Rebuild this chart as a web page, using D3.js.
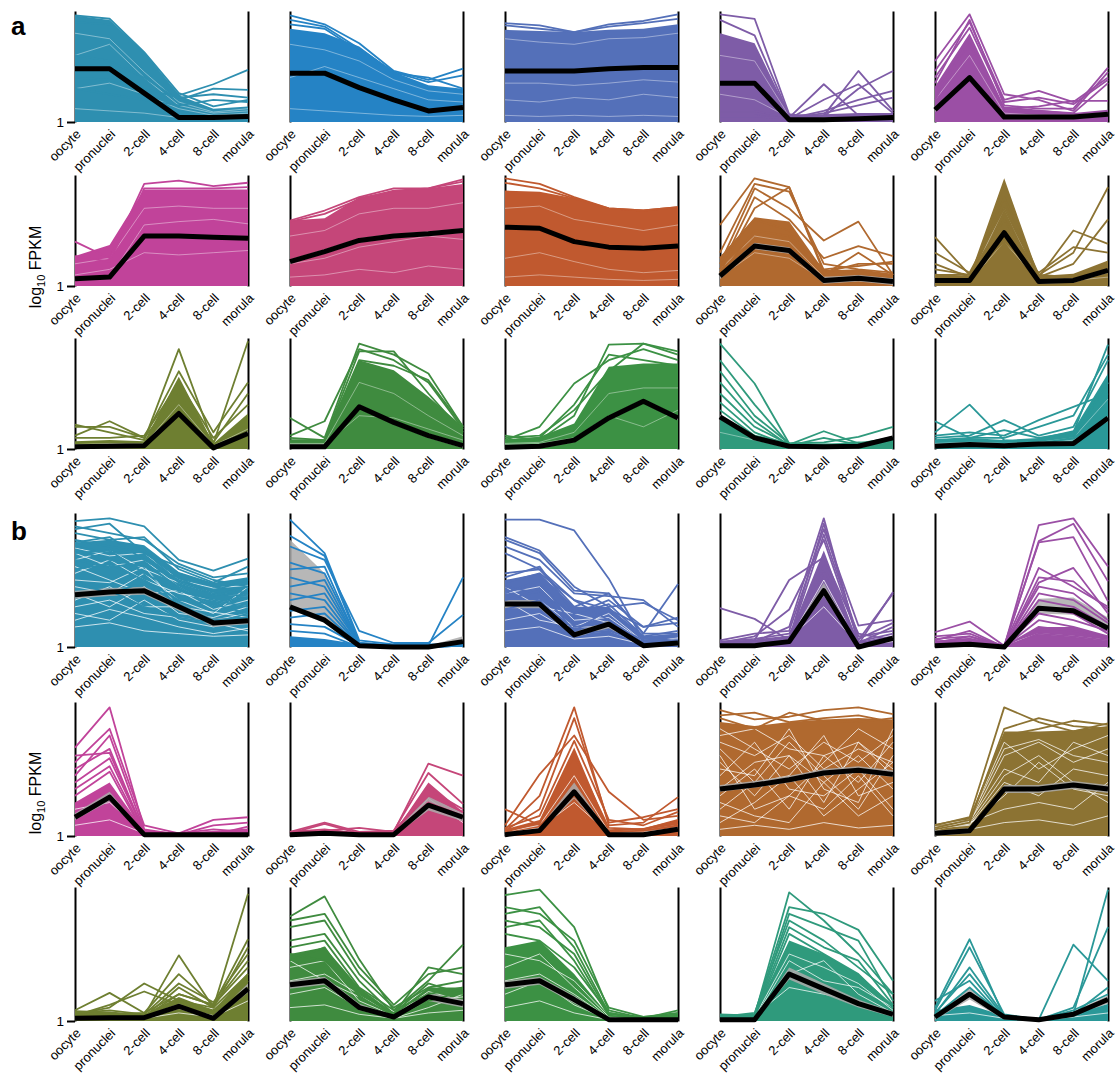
<!DOCTYPE html>
<html>
<head>
<meta charset="utf-8">
<script src="https://cdn.jsdelivr.net/npm/d3@7/dist/d3.min.js"></script>
<style>
  body { margin: 0; background: #fff; }
  svg { display: block; font-family: "Liberation Sans", Arial, Helvetica, sans-serif; }
</style>
</head>
<body>
<svg id="chart" width="1118" height="1077"></svg>
<script>
// stages on the x axis
var stages = ["oocyte", "pronuclei", "2-cell", "4-cell", "8-cell", "morula"];

// one colour per cluster position (same order in a and b)
var colors = ["#2e8fb0", "#2583c5", "#5470b9", "#7e5ca7", "#9b4fa5",
              "#c1439a", "#c54679", "#c0592f", "#b0692f", "#8c7333",
              "#6e7f31", "#3f8b3f", "#3c9144", "#2f9a7c", "#2a9898"];

// values are % of panel height above the "1" baseline (log10 FPKM)
// ---- section a ----
var meanA = [
  [48, 48, 26, 4, 4, 5], [44, 44, 31, 20, 10, 13], [46, 46, 46, 48, 49, 49],
  [35, 35, 2, 2, 3, 4], [11, 40, 4.5, 4.5, 4.5, 7],
  [6.5, 8, 45, 45, 44, 43], [22, 31, 41, 45, 47, 50], [53, 52, 40, 35, 34, 36],
  [9, 36, 32, 5, 7, 4], [5, 5, 48, 4, 5, 14],
  [2, 2.5, 3, 32, 1, 14], [2, 2, 38, 24, 12, 3], [1.5, 2.5, 8, 28, 43, 28],
  [29, 10, 2.5, 2, 2.5, 10], [2.5, 4, 3, 4.5, 5, 28]
];
var ciA = [1.5, 1.5, 1.5, 1.5, 2, 1.5, 2, 1.5, 3, 2, 2, 2, 2, 2, 1.5];
// upper edge of the solid mass of lines (lower edge is the baseline)
var bandA = [
  [96, 92, 63, 24, 12, 14], [84, 80, 68, 45, 33, 30], [83, 82, 81, 83, 84, 88],
  [80, 71, 7, 7, 8, 8], [32, 80, 14, 11, 8, 11],
  [27, 37, 87, 87, 87, 87], [59, 61, 80, 86, 88, 92], [86, 85, 79, 70, 68, 71],
  [26, 62, 58, 14, 15, 11], [11, 9, 97, 9, 11, 23],
  [7, 8, 7, 65, 5, 32], [8, 8, 80, 71, 47, 20], [8, 11, 23, 74, 77, 77],
  [30, 12, 5, 5, 5, 11], [8, 10, 8, 10, 17, 68]
];
// white gaps seen inside the solid mass
var gapsA = [
  [[80, 75, 45, 18, 9, 12], [60, 70, 40, 15, 8, 10], [30, 35, 25, 12, 6, 8], [12, 10, 8, 4, 3, 4]],
  [[70, 65, 55, 38, 28, 25], [40, 50, 40, 30, 20, 18], [12, 10, 8, 6, 5, 6]],
  [[75, 72, 70, 75, 76, 80], [35, 35, 33, 35, 38, 36], [20, 18, 22, 20, 25, 22], [6, 5, 6, 5, 6, 5]],
  [[60, 55, 5, 4, 4, 4], [25, 20, 4, 3, 3, 3]],
  [[20, 60, 8, 6, 5, 7]],
  [[20, 25, 70, 72, 70, 70], [10, 15, 30, 28, 30, 32], [5, 8, 55, 58, 60, 56]],
  [[45, 50, 65, 70, 70, 75], [20, 25, 35, 40, 45, 42], [8, 10, 15, 12, 18, 15]],
  [[70, 72, 60, 55, 50, 55], [25, 30, 22, 15, 12, 14], [8, 10, 8, 6, 5, 6]],
  [[15, 45, 40, 8, 8, 6], [8, 30, 25, 5, 5, 4]],
  [[6, 5, 70, 5, 6, 12], [4, 4, 40, 4, 5, 8]],
  [[4, 5, 4, 40, 3, 18]],
  [[5, 5, 60, 50, 30, 12], [4, 4, 30, 28, 18, 8]],
  [[5, 6, 15, 50, 55, 55], [4, 5, 10, 30, 20, 35]],
  [[15, 8, 3, 3, 3, 6]],
  [[5, 6, 5, 6, 10, 45], [4, 4, 4, 5, 8, 25]]
];
// lines that stick out of the mass
var linesA = [
  [[96, 93, 63, 26, 14, 20], [90, 88, 60, 24, 34, 47], [60, 55, 40, 20, 30, 29], [40, 38, 30, 22, 25, 22], [30, 25, 20, 15, 20, 18]],
  [[96, 88, 71, 46, 38, 48], [92, 86, 66, 45, 36, 42], [88, 84, 64, 44, 40, 30]],
  [[89, 87, 81, 88, 91, 97], [87, 84, 81, 86, 89, 93]],
  [[97, 93, 7, 2, 2, 2], [92, 78, 6, 3, 3, 3], [10, 10, 4, 34, 6, 5], [8, 8, 3, 6, 46, 10], [8, 8, 3, 5, 30, 46], [6, 6, 3, 20, 34, 8], [5, 5, 3, 10, 20, 28], [5, 5, 3, 8, 15, 22]],
  [[55, 97, 25, 20, 10, 45], [46, 90, 20, 28, 18, 40], [40, 85, 18, 22, 16, 38], [30, 70, 12, 14, 19, 19], [20, 75, 10, 10, 8, 35], [35, 92, 15, 12, 12, 49]],
  [[40, 25, 92, 95, 90, 93], [27, 22, 88, 88, 88, 89]],
  [[59, 68, 80, 88, 88, 96], [58, 65, 78, 86, 88, 94]],
  [[97, 92, 80, 70, 68, 71], [93, 88, 79, 70, 68, 71]],
  [[55, 97, 89, 14, 12, 8], [30, 92, 85, 20, 15, 12], [20, 88, 70, 41, 58, 10], [15, 80, 60, 25, 36, 27], [12, 70, 89, 12, 20, 20], [25, 60, 50, 10, 30, 10], [10, 50, 45, 15, 18, 22]],
  [[44, 10, 60, 10, 8, 15], [30, 12, 70, 8, 50, 38], [20, 8, 80, 10, 30, 89], [15, 10, 50, 8, 20, 60], [10, 10, 40, 12, 35, 30]],
  [[22, 15, 8, 90, 5, 97], [20, 20, 10, 70, 15, 60], [10, 10, 12, 60, 10, 40], [12, 25, 10, 50, 6, 50]],
  [[28, 10, 95, 85, 68, 20], [12, 25, 90, 80, 60, 18], [10, 8, 88, 88, 50, 15], [8, 8, 80, 75, 62, 20]],
  [[12, 8, 30, 94, 95, 85], [8, 20, 59, 80, 90, 80], [10, 12, 35, 70, 95, 88], [8, 10, 40, 85, 80, 75]],
  [[95, 59, 5, 3, 3, 5], [80, 40, 4, 16, 5, 10], [70, 30, 5, 6, 11, 20], [60, 25, 3, 10, 4, 8], [50, 20, 4, 4, 4, 6], [42, 15, 3, 3, 6, 5], [35, 12, 5, 3, 3, 8]],
  [[25, 10, 17, 10, 15, 94], [15, 40, 8, 5, 10, 60], [10, 12, 26, 12, 20, 80], [12, 15, 12, 26, 38, 50], [8, 10, 10, 20, 30, 85]]
];

// ---- section b ----
var meanB = [
  [39, 41, 42, 30, 18, 19.5], [30, 20, 1, 0, 0, 4], [32, 32, 9, 17, 1, 3],
  [1, 1, 4, 42, 0, 6.5], [1, 2, 0, 29, 27, 14],
  [14, 29, 1, 1, 1, 1], [1, 2, 1, 1, 23, 14], [1, 4, 33, 1, 1, 5],
  [35, 38, 42, 47, 49, 46], [2, 4, 35, 35, 38, 35],
  [2, 2.5, 2.5, 11, 2, 24], [27, 30, 10, 3, 18, 13], [27, 30, 16, 1, 1, 1],
  [1, 1, 35, 24, 13, 5], [3, 20, 3, 1, 5, 16]
];
var ciLoB = [
  [36, 38, 39, 27, 15, 17], [28, 18, 0, 0, 0, 2], [29, 29, 7, 14, 0, 1],
  [0, 0, 3, 38, 0, 5], [0, 1, 0, 25, 24, 12],
  [12, 26, 0, 0, 0, 0], [0, 1, 0, 0, 19, 11], [0, 3, 28, 0, 0, 4],
  [33, 36, 40, 45, 47, 44], [0, 2, 32, 32, 35, 32],
  [1, 1.5, 1.5, 9, 1, 21], [24, 27, 8, 2, 15, 10], [24, 27, 13, 0, 0, 0],
  [0, 0, 31, 20, 10, 3], [1, 16, 1, 0, 3, 13]
];
var ciHiB = [
  [42, 44, 45, 33, 21, 22], [80, 55, 3, 1, 1, 8], [35, 35, 11, 20, 3, 5],
  [2, 2, 6, 48, 1, 8], [2, 3, 1, 36, 37, 22],
  [17, 33, 2, 2, 2, 2], [2, 3, 2, 2, 30, 17], [2, 6, 40, 2, 2, 7],
  [38, 41, 45, 50, 52, 49], [4, 6, 38, 38, 41, 38],
  [3, 3.5, 3.5, 13, 3, 28], [30, 33, 13, 4, 21, 16], [30, 33, 19, 2, 2, 2],
  [2, 2, 40, 28, 16, 7], [5, 25, 5, 2, 7, 19]
];
var bandB = [
  [78, 80, 76, 56, 48, 52], [8, 6, 2, 1, 1, 2], [50, 55, 30, 30, 8, 10],
  [4, 5, 8, 72, 3, 8], [3, 4, 1, 15, 15, 8],
  [25, 40, 4, 2, 2, 3], [3, 4, 2, 2, 40, 18], [5, 12, 66, 5, 6, 12],
  [85, 82, 85, 87, 88, 87], [9, 14, 78, 78, 79, 82],
  [8, 7, 5, 18, 8, 36], [50, 55, 25, 6, 25, 25], [55, 60, 35, 4, 2, 3],
  [4, 5, 60, 50, 35, 12], [8, 12, 4, 1, 5, 12]
];
var gapsB = [
  [[70, 60, 65, 45, 30, 40], [55, 65, 50, 40, 35, 30], [45, 40, 55, 35, 25, 45], [35, 45, 30, 30, 20, 25], [25, 20, 35, 20, 15, 20],
   [60, 50, 40, 42, 28, 35], [20, 28, 22, 15, 10, 14], [40, 30, 45, 25, 22, 30], [65, 72, 58, 48, 40, 38], [30, 35, 25, 22, 18, 12],
   [50, 48, 60, 30, 26, 22], [15, 18, 12, 10, 8, 9], [74, 68, 70, 50, 44, 46]],
  [],
  [[40, 45, 20, 22, 4, 6], [30, 35, 15, 15, 3, 5], [45, 30, 25, 18, 5, 4], [20, 25, 10, 12, 3, 3], [35, 20, 15, 25, 4, 7], [12, 15, 6, 8, 2, 3]],
  [[2, 3, 5, 50, 2, 5], [2, 3, 6, 30, 2, 4]],
  [[2, 3, 1, 10, 8, 5]],
  [[15, 30, 2, 1, 1, 2], [20, 25, 2, 1, 1, 2], [8, 12, 2, 1, 1, 2]],
  [[2, 3, 1, 1, 28, 10]],
  [[3, 8, 45, 3, 4, 8], [2, 6, 25, 2, 3, 6]],
  [[70, 60, 75, 50, 65, 55], [30, 50, 20, 60, 40, 70], [55, 30, 60, 25, 70, 45], [20, 40, 70, 45, 20, 60], [80, 65, 50, 70, 55, 75],
   [45, 70, 35, 30, 50, 20], [10, 25, 45, 75, 30, 40], [60, 20, 30, 55, 80, 65], [35, 55, 60, 40, 15, 30], [75, 80, 65, 60, 70, 50],
   [15, 10, 30, 20, 45, 15], [50, 45, 80, 35, 25, 80], [25, 15, 10, 40, 60, 35], [65, 40, 45, 15, 35, 55], [5, 8, 5, 10, 6, 8]],
  [[5, 10, 60, 70, 55, 65], [6, 8, 40, 30, 50, 45], [4, 12, 70, 50, 65, 75], [7, 9, 30, 55, 35, 30], [5, 11, 50, 40, 70, 60],
   [6, 10, 20, 25, 20, 40], [8, 12, 65, 72, 60, 55], [5, 9, 45, 60, 40, 25], [3, 5, 10, 12, 8, 15]],
  [[4, 4, 3, 10, 4, 25], [3, 3, 2, 6, 3, 15]],
  [[40, 45, 15, 4, 15, 18], [30, 35, 20, 3, 20, 12], [20, 25, 10, 2, 10, 20], [45, 30, 18, 4, 22, 15], [10, 12, 5, 2, 6, 8]],
  [[40, 50, 25, 2, 1, 2], [30, 35, 20, 2, 1, 2], [50, 45, 30, 3, 1, 2], [20, 30, 12, 1, 1, 1], [10, 15, 6, 1, 1, 1]],
  [[3, 3, 50, 40, 28, 8], [2, 3, 35, 45, 20, 6], [3, 4, 25, 20, 15, 5], [2, 2, 45, 30, 25, 10]],
  [[4, 6, 2, 1, 3, 6]]
];
var linesB = [
  [[94, 96, 90, 65, 57, 66], [90, 85, 80, 62, 52, 55], [88, 92, 70, 60, 50, 45], [85, 80, 82, 58, 48, 60], [80, 75, 70, 55, 45, 40],
   [78, 82, 65, 50, 42, 50], [75, 70, 72, 48, 40, 38], [72, 65, 60, 52, 38, 45], [70, 72, 55, 42, 35, 30], [65, 60, 62, 45, 30, 40],
   [58, 62, 50, 35, 32, 25], [48, 40, 48, 32, 20, 22], [38, 42, 30, 22, 18, 25]],
  [[95, 70, 5, 2, 2, 2], [83, 68, 3, 1, 1, 52], [75, 65, 12, 3, 3, 24], [63, 55, 3, 1, 1, 3], [58, 60, 2, 1, 1, 2],
   [52, 45, 2, 1, 1, 2], [45, 50, 2, 1, 1, 2], [40, 35, 1, 1, 1, 2], [35, 40, 2, 1, 1, 2], [27, 30, 1, 0, 0, 1],
   [22, 25, 1, 1, 0, 2], [17, 15, 1, 0, 0, 1], [12, 10, 0, 0, 0, 1]],
  [[95, 95, 87, 51, 5, 3], [82, 72, 45, 30, 33, 20], [80, 70, 42, 40, 10, 47], [75, 65, 40, 38, 35, 15], [70, 58, 35, 28, 15, 22],
   [55, 58, 30, 40, 10, 10], [52, 60, 25, 32, 8, 12], [48, 55, 35, 20, 3, 5], [45, 40, 25, 35, 15, 18], [40, 50, 15, 18, 5, 5],
   [35, 42, 12, 28, 8, 4], [28, 35, 10, 12, 4, 8]],
  [[29, 21, 5, 60, 3, 8], [3, 5, 50, 67, 10, 5], [3, 8, 28, 80, 5, 40], [4, 6, 10, 55, 2, 41], [2, 4, 15, 96, 3, 15],
   [5, 10, 12, 88, 16, 20], [3, 5, 8, 40, 6, 18], [2, 3, 6, 92, 4, 10], [3, 4, 5, 84, 8, 12]],
  [[3, 8, 0, 91, 96, 60], [2, 5, 0, 79, 92, 49], [4, 6, 1, 78, 82, 34], [11, 19, 1, 59, 45, 30], [8, 10, 0, 48, 59, 25],
   [5, 12, 0, 52, 49, 28], [6, 8, 1, 45, 40, 20], [3, 5, 0, 40, 35, 18], [2, 4, 0, 35, 30, 15], [4, 6, 0, 30, 25, 10],
   [2, 3, 0, 25, 20, 12], [1, 2, 0, 20, 15, 8], [3, 2, 0, 15, 12, 6], [1, 3, 0, 10, 8, 5]],
  [[66, 96, 5, 1, 1, 2], [55, 80, 8, 2, 12, 14], [45, 75, 4, 1, 8, 10], [60, 62, 3, 2, 3, 5], [50, 65, 2, 1, 1, 7],
   [40, 58, 3, 2, 5, 3], [35, 52, 2, 1, 2, 4], [30, 48, 1, 1, 3, 2]],
  [[3, 5, 2, 3, 54, 45], [2, 9, 2, 4, 47, 24], [3, 10, 3, 4, 30, 18], [2, 4, 6, 3, 35, 20], [2, 3, 2, 2, 25, 15]],
  [[20, 8, 30, 3, 4, 8], [8, 46, 75, 33, 12, 15], [5, 30, 96, 8, 10, 29], [4, 20, 88, 10, 14, 20], [6, 15, 71, 12, 8, 18], [3, 10, 60, 6, 5, 12]],
  [[94, 87, 89, 94, 96, 91], [90, 92, 85, 88, 90, 85], [88, 80, 92, 86, 85, 88]],
  [[8, 14, 96, 85, 78, 84], [5, 10, 80, 88, 82, 80], [6, 12, 75, 80, 86, 83]],
  [[3, 4, 4, 15, 10, 95], [2, 3, 3, 20, 12, 61], [5, 3, 4, 49, 10, 35], [4, 5, 6, 35, 12, 40], [5, 10, 28, 15, 8, 30],
   [8, 21, 6, 20, 12, 45], [4, 12, 22, 12, 6, 25], [6, 8, 5, 28, 14, 50], [3, 4, 3, 25, 10, 55]],
  [[78, 93, 46, 8, 30, 57], [75, 80, 40, 12, 35, 40], [70, 75, 35, 10, 25, 30], [60, 65, 30, 5, 40, 35], [55, 60, 25, 8, 20, 25],
   [50, 45, 20, 6, 28, 20], [45, 55, 18, 4, 15, 22]],
  [[94, 98, 70, 8, 2, 4], [85, 80, 60, 10, 3, 5], [80, 85, 55, 6, 2, 3], [75, 70, 50, 5, 3, 6], [70, 75, 45, 4, 2, 8],
   [65, 60, 40, 6, 2, 4]],
  [[5, 4, 96, 75, 50, 20], [3, 5, 85, 80, 68, 30], [4, 3, 80, 70, 60, 15], [3, 6, 75, 60, 40, 20], [2, 4, 70, 55, 45, 12],
   [3, 3, 65, 50, 35, 10]],
  [[10, 61, 3, 1, 5, 98], [8, 55, 5, 1, 57, 30], [5, 40, 4, 1, 10, 70], [6, 35, 3, 1, 8, 20], [15, 30, 2, 1, 5, 25],
   [4, 25, 3, 1, 6, 15], [3, 20, 2, 1, 4, 12]]
];

var svg = d3.select("#chart");
var panelW = 173, colLeft = 75, colStep = 215;

var sections = [
  { name: "a", tops: [11, 175, 338], h: 111, labelY: 35, yLabelY: 267, gapOpacity: 0.4,
    mean: meanA, band: bandA, gaps: gapsA, lines: linesA,
    lo: meanA.map(function (m, i) { return m.map(function (v) { return Math.max(0, v - ciA[i]); }); }),
    hi: meanA.map(function (m, i) { return m.map(function (v) { return v + ciA[i]; }); }) },
  { name: "b", tops: [513, 702, 887], h: 134, labelY: 540, yLabelY: 793, gapOpacity: 0.75,
    mean: meanB, band: bandB, gaps: gapsB, lines: linesB, lo: ciLoB, hi: ciHiB }
];

sections.forEach(function (sec) {
  svg.append("text").attr("x", 11).attr("y", sec.labelY)
    .attr("font-size", 26).attr("font-weight", "bold").text(sec.name);

  var yl = svg.append("text")
    .attr("transform", "translate(41," + sec.yLabelY + ") rotate(-90)")
    .attr("text-anchor", "middle").attr("font-size", 16);
  yl.append("tspan").text("log");
  yl.append("tspan").attr("font-size", 11).attr("dy", 4).text("10");
  yl.append("tspan").attr("dy", -4).text(" FPKM");

  for (var k = 0; k < 15; k++) {
    var r = Math.floor(k / 5), c = k % 5;
    var left = colLeft + colStep * c, top = sec.tops[r], bottom = top + sec.h;
    var x = d3.scalePoint().domain(stages).range([left, left + panelW]);
    var y = d3.scaleLinear().domain([0, 100]).range([bottom, top]);
    var g = svg.append("g");

    // frame: left axis and right edge
    var ax = g.append("g").attr("transform", "translate(" + left + ",0)")
      .call(d3.axisLeft(y).tickValues(c === 0 ? [0] : []).tickFormat(function () { return "1"; })
        .tickSizeOuter(0).tickSizeInner(8).tickPadding(3));
    ax.select(".domain").attr("stroke-width", 2);
    ax.selectAll(".tick line").attr("stroke-width", 2);
    ax.selectAll(".tick text").attr("font-size", 13.5).attr("font-family", null);
    var rx = g.append("g").attr("transform", "translate(" + (left + panelW) + ",0)")
      .call(d3.axisRight(y).tickValues([]).tickSizeOuter(0));
    rx.select(".domain").attr("stroke-width", 2);

    var bx = g.append("g").attr("transform", "translate(0," + bottom + ")")
      .call(d3.axisBottom(x).tickSize(0).tickPadding(0));
    bx.select(".domain").remove();
    bx.selectAll(".tick text").attr("font-size", 13).attr("font-family", null)
      .attr("text-anchor", "end").attr("dy", null).attr("y", 0)
      .attr("transform", "translate(6,13) rotate(-45)");

    var line = d3.line().x(function (d, i) { return x(stages[i]); }).y(function (d) { return y(d); });
    var area = d3.area().x(function (d, i) { return x(stages[i]); })
      .y0(function (d) { return y(d[0]); }).y1(function (d) { return y(d[1]); });

    // dense mass of profiles
    g.append("path")
      .datum(sec.band[k].map(function (v) { return [0, v]; }))
      .attr("d", area).attr("fill", colors[k]);

    // white gaps between profiles inside the mass
    g.selectAll(".gap").data(sec.gaps[k]).enter().append("path")
      .attr("class", "gap").attr("d", line)
      .attr("fill", "none").attr("stroke", "#fff").attr("stroke-width", 1)
      .attr("stroke-opacity", sec.gapOpacity);

    // confidence band of the mean
    g.append("path")
      .datum(sec.lo[k].map(function (v, i) { return [v, sec.hi[k][i]]; }))
      .attr("d", area).attr("fill", "#aaa").attr("opacity", 0.85);

    g.selectAll(".prof").data(sec.lines[k]).enter().append("path")
      .attr("class", "prof").attr("d", line)
      .attr("fill", "none").attr("stroke", colors[k]).attr("stroke-width", 1.8)
      .attr("stroke-linejoin", "round");

    g.append("path").datum(sec.mean[k]).attr("d", line)
      .attr("fill", "none").attr("stroke", "#000").attr("stroke-width", 5)
      .attr("stroke-linejoin", "round");
  }
});
</script>
</body>
</html>
